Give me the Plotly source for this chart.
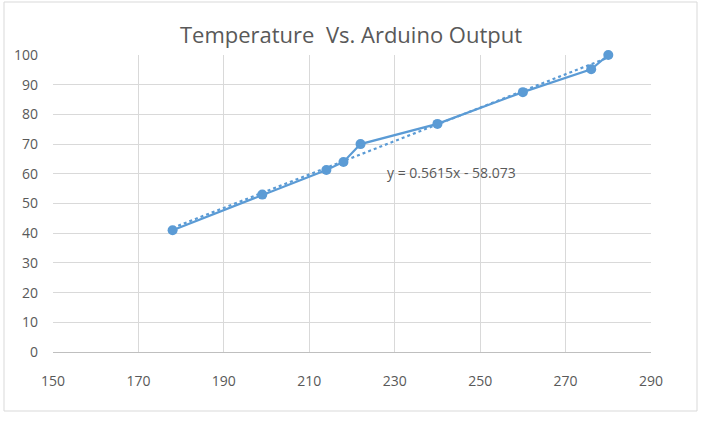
import numpy as np
import plotly.graph_objects as go

temperature_x = [178, 199, 214, 218, 222, 240, 260, 276, 280]
arduino_y = [41, 53, 61.3, 64, 70, 76.8, 87.5, 95.2, 100]
trend_label = "y = 0.5615x - 58.073"
x_ticks = [150, 170, 190, 210, 230, 250, 270, 290]
y_ticks = [0, 10, 20, 30, 40, 50, 60, 70, 80, 90, 100]

W, H = 702, 422
L, R, T, B = 53, 51, 55, 70
pw, ph = W - L - R, H - T - B

color = "#5b9bd5"
grey = "#595959"

slope, intercept = np.polyfit(temperature_x, arduino_y, 1)
tx = np.array([min(temperature_x), max(temperature_x)])
ty = slope * tx + intercept

fig = go.Figure()
fig.add_trace(go.Scatter(x=tx, y=ty, mode="lines",
                         line=dict(color=color, width=2.2, dash="dot"),
                         showlegend=False, hoverinfo="skip", cliponaxis=False))
fig.add_trace(go.Scatter(x=temperature_x, y=arduino_y, mode="lines+markers",
                         line=dict(color=color, width=2.2),
                         marker=dict(color=color, size=10),
                         showlegend=False, cliponaxis=False))

fig.add_annotation(x=227.8, y=60.6, text=trend_label, showarrow=False,
                   xanchor="left", yanchor="middle",
                   font=dict(size=14, color=grey, family="Open Sans"))

def px2paper_x(p):
    return (p - L) / pw

def px2paper_y(p):
    return (H - B - p) / ph

fig.add_shape(type="rect", xref="paper", yref="paper",
              x0=px2paper_x(4), x1=px2paper_x(697),
              y0=px2paper_y(411), y1=px2paper_y(2),
              line=dict(color="#d9d9d9", width=1), layer="below")

fig.update_layout(
    width=W, height=H,
    margin=dict(l=L, r=R, t=T, b=B),
    paper_bgcolor="white", plot_bgcolor="white",
    title=dict(text="Temperature  Vs. Arduino Output", x=0.5, xanchor="center",
               y=1 - 35 / H, yanchor="middle",
               font=dict(size=22, color=grey, family="Open Sans")),
    font=dict(family="Open Sans", color=grey, size=14),
)
fig.update_xaxes(range=[150, 290], tickvals=x_ticks, showgrid=True,
                 gridcolor="#d9d9d9", gridwidth=1, zeroline=False,
                 showline=True, linecolor="#bfbfbf", mirror=False,
                 ticks="", ticklabelstandoff=16,
                 tickfont=dict(size=14, color=grey))
fig.update_yaxes(range=[0, 100], tickvals=y_ticks, showgrid=True,
                 gridcolor="#d9d9d9", gridwidth=1, zeroline=False,
                 showline=False, ticks="", ticklabelstandoff=14,
                 tickfont=dict(size=14, color=grey))

fig.write_html("out.html")
